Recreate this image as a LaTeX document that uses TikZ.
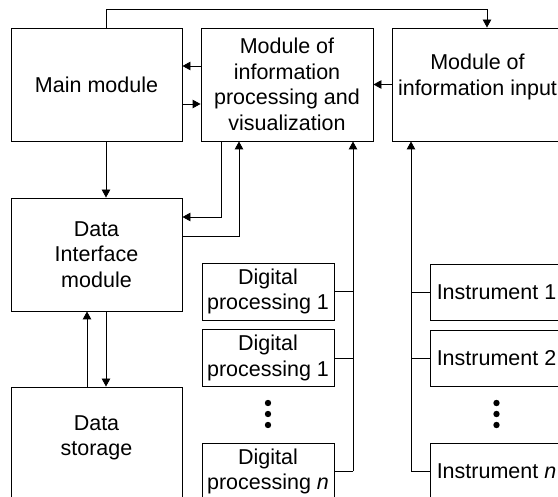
\documentclass[tikz,border=0pt]{standalone}
\usepackage{fontspec}
\setmainfont{Liberation Sans}
\usetikzlibrary{arrows.meta,calc}
\tikzset{
  box/.style={draw=black, line width=0.9pt, rectangle, inner sep=0pt, align=center,
    font=\fontsize{21.5}{25.5}\selectfont},
  bigbox/.style={box, minimum width=171pt, minimum height=113pt},
  smallbox/.style={box, minimum width=132pt, minimum height=57pt},
  txt/.style={inner sep=0pt, align=center, font=\fontsize{21.5}{25.5}\selectfont},
  conn/.style={draw=black, line width=0.9pt},
  arr/.style={conn, -{Triangle[length=8pt,width=8.5pt]}},
  dotmark/.style={fill=black}
}
\begin{document}
\begin{tikzpicture}[x=1pt,y=1pt]
\useasboundingbox (0,0) rectangle (558,-497);
\clip (0,0) rectangle (558,-497);
\fill[white] (0,0) rectangle (558,-497);

% top row
\node[bigbox] (main) at (96.5,-84.5) {Main module};
\node[bigbox, minimum width=172pt] (proc) at (287,-84.5) {Module of\\information\\processing and\\visualization};
\node[bigbox] (input) at (477.5,-84.5) {};
\node[txt] (inputlbl) at ([yshift=7.5]input.center) {Module of\\information input};

% left column
\node[bigbox] (dif) at (96.5,-254.5) {Data\\Interface\\module};
\node[bigbox] (stor) at (96.5,-443.5) {};
\node[txt] (storlbl) at ([yshift=5.5]stor.center) {Data\\storage};

% digital processing
\node[smallbox] (dp1) at (268,-291.5) {Digital\\processing 1};
\node[smallbox] (dp2) at (268,-358) {Digital\\processing 1};
\node[smallbox] (dpn) at (268,-471.5) {Digital\\processing \textit{n}};
\foreach \yy in {403,414,425} \fill[dotmark] (268,-\yy) circle (3.2pt);

% instruments
\node[smallbox, minimum width=133pt, minimum height=56pt] (in1) at (496.5,-292) {Instrument 1};
\node[smallbox, minimum width=133pt, minimum height=56pt] (in2) at (496.5,-358) {Instrument 2};
\node[smallbox, minimum width=133pt, minimum height=57pt] (inn) at (496.5,-471.5) {Instrument \textit{n}};
\foreach \yy in {403,414,425} \fill[dotmark] (496.5,-\yy) circle (3.2pt);

% connectors
\draw[arr] ([xshift=9.5]main.north) -- ++(0,18.5) -| ([xshift=9.5]input.north);
\draw[arr] ([yshift=18.5]proc.west) -- ([yshift=18.5]main.east);
\draw[arr] ([yshift=-19.5]main.east) -- ([yshift=-19.5]proc.west);
\draw[arr] (input.west) -- (input.west -| proc.east);
\draw[arr] ([xshift=9.5]main.south) -- ([xshift=9.5]dif.north);
\draw[arr] ([xshift=-66]proc.south) |- ([yshift=37.5]dif.east);
\draw[arr] ([yshift=18.5]dif.east) -| ([xshift=-48]proc.south);
\draw[arr] ([xshift=-9.5]stor.north) -- ([xshift=-9.5]dif.south);
\draw[arr] ([xshift=9.5]dif.south) -- ([xshift=9.5]stor.north);

% digital bus
\coordinate (db) at (353,-471.5);
\draw[conn] (dpn.east) -- (db);
\draw[arr] (db) -- (db |- proc.south);
\draw[conn] (dp1.east) -- (dp1.east -| db);
\draw[conn] (dp2.east) -- (dp2.east -| db);

% instrument bus
\coordinate (ib) at (411,-471.5);
\draw[conn] (inn.west) -- (ib);
\draw[arr] (ib) -- (ib |- input.south);
\draw[conn] (in1.west) -- (in1.west -| ib);
\draw[conn] (in2.west) -- (in2.west -| ib);
\end{tikzpicture}
\end{document}
